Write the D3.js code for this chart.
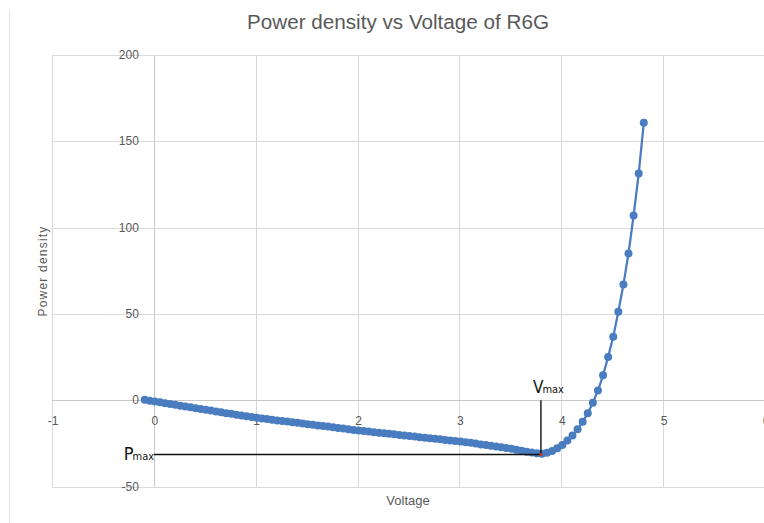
<!DOCTYPE html>
<html lang="en">
<head>
<meta charset="utf-8">
<title>Power density vs Voltage of R6G</title>
<script src="https://d3js.org/d3.v7.min.js"></script>
<style>
  body { margin: 0; background: #fff; }
  text { font-family: "Liberation Sans", Arial, sans-serif; fill: #595959; }
</style>
</head>
<body>
<script>

const voltage = [-0.09, -0.04, 0.01, 0.06, 0.11, 0.16, 0.21, 0.26, 0.31, 0.36,
  0.41, 0.46, 0.51, 0.56, 0.61, 0.66, 0.71, 0.76, 0.81, 0.86,
  0.91, 0.96, 1.01, 1.06, 1.11, 1.16, 1.21, 1.26, 1.31, 1.36,
  1.41, 1.46, 1.51, 1.56, 1.61, 1.66, 1.71, 1.76, 1.81, 1.86,
  1.91, 1.96, 2.01, 2.06, 2.11, 2.16, 2.21, 2.26, 2.31, 2.36,
  2.41, 2.46, 2.51, 2.56, 2.61, 2.66, 2.71, 2.76, 2.81, 2.86,
  2.91, 2.96, 3.01, 3.06, 3.11, 3.16, 3.21, 3.26, 3.31, 3.36,
  3.41, 3.46, 3.51, 3.56, 3.61, 3.66, 3.71, 3.76, 3.81, 3.86,
  3.91, 3.96, 4.01, 4.06, 4.11, 4.16, 4.21, 4.26, 4.31, 4.36,
  4.41, 4.46, 4.51, 4.56, 4.61, 4.66, 4.71, 4.76, 4.81];

const powerDensity = [0.2, -0.3, -0.7, -1.2, -1.7, -2.2, -2.7, -3.2, -3.6, -4.1,
  -4.6, -5.1, -5.5, -6.0, -6.5, -7.0, -7.5, -7.9, -8.4, -8.9,
  -9.3, -9.8, -10.2, -10.6, -10.9, -11.3, -11.7, -12.0, -12.4, -12.8,
  -13.1, -13.5, -13.9, -14.2, -14.6, -15.0, -15.3, -15.7, -16.1, -16.4,
  -16.8, -17.2, -17.5, -17.8, -18.2, -18.5, -18.8, -19.1, -19.4, -19.8,
  -20.1, -20.4, -20.7, -21.0, -21.4, -21.7, -22.0, -22.3, -22.6, -23.0,
  -23.3, -23.6, -23.9, -24.3, -24.7, -25.1, -25.6, -26.0, -26.4, -26.8,
  -27.2, -27.7, -28.1, -28.7, -29.3, -29.8, -30.3, -30.8, -31.0, -30.4,
  -29.4, -27.9, -25.9, -23.4, -20.4, -16.8, -12.5, -7.5, -1.5, 5.6,
  14.4, 25.1, 36.7, 51.2, 67, 85, 107, 131.3, 160.7];

const xTicks = [-1, 0, 1, 2, 3, 4, 5, 6];
const yTicks = [-50, 0, 50, 100, 150, 200];

// hand drawn markers on the chart
const vMax = 3.8;
const pMax = -31.5;

const margin = { top: 55, right: -1, bottom: 36.5, left: 52 },
  width = 764,
  height = 523;

const svg = d3.select("body").append("svg")
  .attr("width", width)
  .attr("height", height);

const x = d3.scaleLinear().domain([-1, 6]).range([margin.left, width - margin.right]);
const y = d3.scaleLinear().domain([-50, 200]).range([height - margin.bottom, margin.top]);

const points = voltage.map((v, i) => [v, powerDensity[i]]);

// chart area border (left edge only visible)
svg.append("line")
  .attr("x1", 9.5).attr("x2", 9.5)
  .attr("y1", 10).attr("y2", height)
  .attr("stroke", "#e3e3e3");

// gridlines
svg.append("g").selectAll("line")
  .data(xTicks)
  .join("line")
  .attr("x1", d => Math.round(x(d)) + 0.5)
  .attr("x2", d => Math.round(x(d)) + 0.5)
  .attr("y1", y(200)).attr("y2", y(-50))
  .attr("stroke", d => d === 0 ? "#c8c8c8" : "#d9d9d9");

svg.append("g").selectAll("line")
  .data(yTicks)
  .join("line")
  .attr("x1", x(-1)).attr("x2", x(6))
  .attr("y1", d => Math.round(y(d)) + 0.5)
  .attr("y2", d => Math.round(y(d)) + 0.5)
  .attr("stroke", d => d === 0 ? "#c8c8c8" : "#d9d9d9");

// tick labels, axes cross at 0
svg.append("g").selectAll("text")
  .data(yTicks)
  .join("text")
  .attr("x", x(0) - 15)
  .attr("y", d => y(d) + 4)
  .attr("text-anchor", "end")
  .style("font-size", "12px")
  .text(d => d);

svg.append("g").selectAll("text")
  .data(xTicks)
  .join("text")
  .attr("x", d => x(d) + 1)
  .attr("y", y(0) + 25)
  .attr("text-anchor", "middle")
  .style("font-size", "12px")
  .text(d => d);

// title and axis titles
svg.append("text")
  .attr("x", 398).attr("y", 29)
  .attr("text-anchor", "middle")
  .attr("textLength", 302)
  .attr("lengthAdjust", "spacingAndGlyphs")
  .style("font-size", "20px")
  .text("Power density vs Voltage of R6G");

svg.append("text")
  .attr("x", 408).attr("y", 505)
  .attr("text-anchor", "middle")
  .style("font-size", "13px")
  .text("Voltage");

svg.append("text")
  .attr("transform", "translate(47,271) rotate(-90)")
  .attr("text-anchor", "middle")
  .style("font-size", "12px")
  .style("letter-spacing", "1.2px")
  .text("Power density");

// series
const line = d3.line().x(d => x(d[0])).y(d => y(d[1]));

svg.append("path")
  .datum(points)
  .attr("fill", "none")
  .attr("stroke", "#4a7cc0")
  .attr("stroke-width", 2.25)
  .attr("d", line);

svg.append("g").selectAll("circle")
  .data(points)
  .join("circle")
  .attr("cx", d => x(d[0]))
  .attr("cy", d => y(d[1]))
  .attr("r", 4)
  .attr("fill", "#4a7cc0");

// Pmax / Vmax annotation
svg.append("line")
  .attr("x1", x(0)).attr("x2", x(vMax))
  .attr("y1", y(pMax)).attr("y2", y(pMax))
  .attr("stroke", "#111").attr("stroke-width", 1.4);

svg.append("line")
  .attr("x1", x(vMax)).attr("x2", x(vMax))
  .attr("y1", y(0)).attr("y2", y(pMax))
  .attr("stroke", "#111").attr("stroke-width", 1.4);

svg.append("rect")
  .attr("x", x(vMax) - 1.5).attr("y", y(pMax) - 1.5)
  .attr("width", 3).attr("height", 3)
  .attr("fill", "#c0392b");

const pLabel = svg.append("text")
  .attr("x", x(0) - 30).attr("y", y(pMax) + 5)
  .style("fill", "#111")
  .style("font-family", "'DejaVu Sans Condensed', 'DejaVu Sans', sans-serif");
pLabel.append("tspan").style("font-size", "18px").text("P");
pLabel.append("tspan").style("font-size", "11px").attr("dx", -1).text("max");

const vLabel = svg.append("text")
  .attr("x", x(vMax) - 8).attr("y", y(0) - 7)
  .style("fill", "#111")
  .style("font-family", "'DejaVu Sans Condensed', 'DejaVu Sans', sans-serif");
vLabel.append("tspan").style("font-size", "17px").text("V");
vLabel.append("tspan").style("font-size", "11px").attr("dx", -1).text("max");

</script>
</body>
</html>
